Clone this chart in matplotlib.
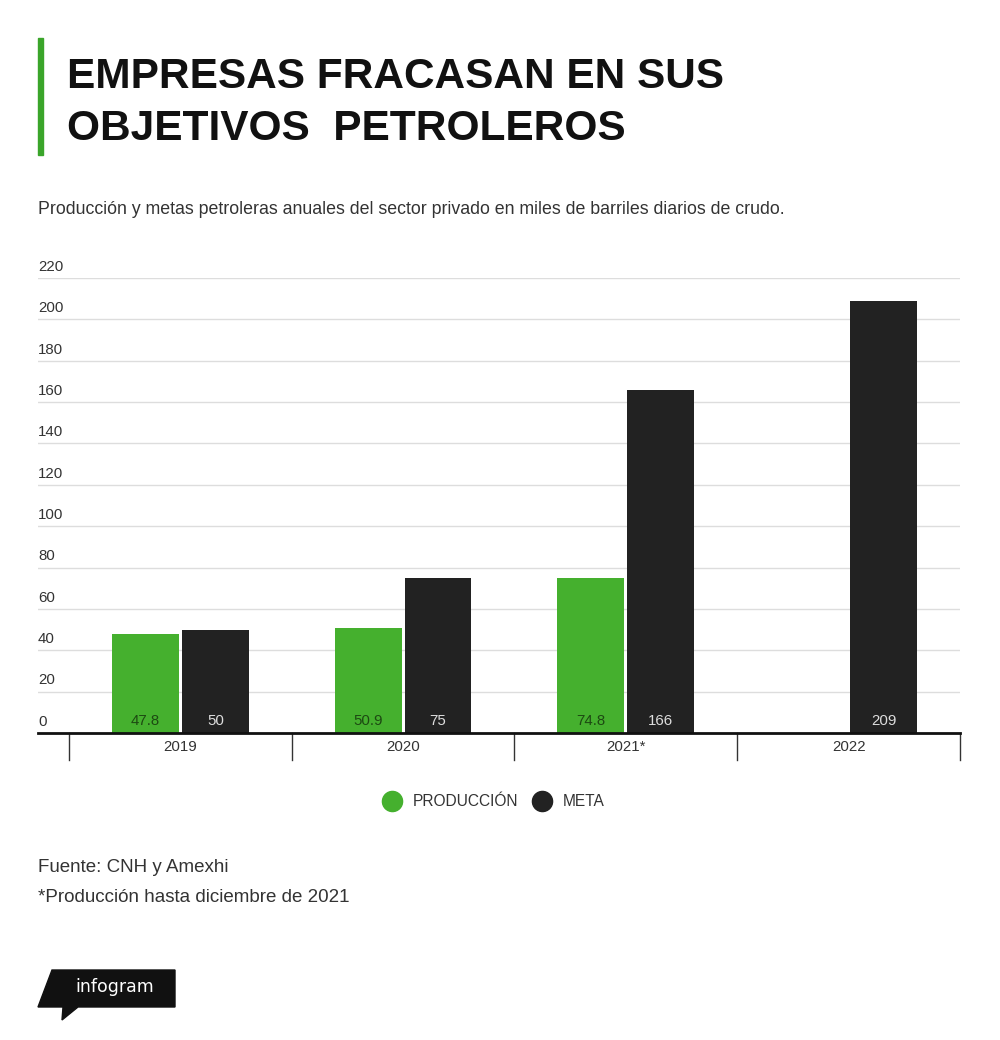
import numpy as np
import matplotlib.pyplot as plt
from matplotlib.patches import Polygon, Rectangle
from matplotlib.lines import Line2D
import matplotlib.transforms as mtransforms

years = ['2019', '2020', '2021*', '2022']
produccion = [47.8, 50.9, 74.8, None]
meta = [50, 75, 166, 209]
yticks = [0, 20, 40, 60, 80, 100, 120, 140, 160, 180, 200, 220]

green = '#45b02e'
dark = '#222222'

plt.rcParams['font.family'] = ['Liberation Sans', 'DejaVu Sans']

W, H = 1000, 1040
fig = plt.figure(figsize=(W / 100, H / 100), dpi=100)
fig.patch.set_facecolor('white')

def fx(px):
    return px / W

def fy(py):
    return 1 - py / H

# title block
fig.patches.append(Rectangle((fx(38), fy(155)), fx(5), 117 / H, transform=fig.transFigure,
                             color='#3aa52a', zorder=5))
fig.text(fx(67), fy(77), 'EMPRESAS FRACASAN EN SUS', fontsize=30.5, fontweight='bold',
         color='#111111', va='center', ha='left')
fig.text(fx(67), fy(129), 'OBJETIVOS  PETROLEROS', fontsize=30.5, fontweight='bold',
         color='#111111', va='center', ha='left')
fig.text(fx(38), fy(210), 'Producción y metas petroleras anuales del sector privado en miles de barriles diarios de crudo.',
         fontsize=12.8, color='#333333', va='center', ha='left')

# chart
ax = fig.add_axes([fx(38), fy(733), (960 - 38) / W, (733 - 278) / H])
ax.set_xlim(-0.639, 3.5)
ax.set_ylim(0, 220)
for s in ax.spines.values():
    s.set_visible(False)
ax.set_xticks([])
ax.set_yticks([])

for v in yticks[1:]:
    ax.axhline(v, color='#dddddd', lw=1, zorder=0)
ax.axhline(0, color='#111111', lw=2, zorder=4, clip_on=False)
for v in yticks:
    ax.text(-0.639, v + 2, str(v), fontsize=10.8, color='#333333', ha='left', va='bottom')

x = np.arange(len(years))
bw = 0.30
off = 0.157
trans = mtransforms.blended_transform_factory(ax.transData, ax.transAxes)
for i, yr in enumerate(years):
    p = produccion[i]
    if p is not None:
        ax.bar(x[i] - off, p, width=bw, color=green, zorder=2)
        ax.text(x[i] - off, 2.5, f'{p:g}', fontsize=10.8, color='#1d4a12', ha='center', va='bottom', zorder=3)
    ax.bar(x[i] + off, meta[i], width=bw, color=dark, zorder=2)
    ax.text(x[i] + off, 2.5, f'{meta[i]:g}', fontsize=10.8, color='#dddddd', ha='center', va='bottom', zorder=3)
    ax.text(x[i], -0.031, yr, fontsize=10.8, color='#333333', ha='center', va='center', transform=trans)

for b in np.arange(-0.5, 4.0, 1.0):
    ax.plot([b, b], [0, -27 / 455], color='#333333', lw=1, transform=trans, clip_on=False)

# legend
fig.lines.append(Line2D([fx(392)], [fy(801)], marker='o', markersize=14.5, color=green,
                        transform=fig.transFigure))
fig.text(fx(413), fy(801), 'PRODUCCIÓN', fontsize=11.2, color='#333333', va='center', ha='left')
fig.lines.append(Line2D([fx(542)], [fy(801)], marker='o', markersize=14.5, color=dark,
                        transform=fig.transFigure))
fig.text(fx(563), fy(801), 'META', fontsize=11.2, color='#333333', va='center', ha='left')

# footer
fig.text(fx(38), fy(867), 'Fuente: CNH y Amexhi', fontsize=13.5, color='#333333', va='center', ha='left')
fig.text(fx(38), fy(898), '*Producción hasta diciembre de 2021', fontsize=13.5, color='#333333', va='center', ha='left')

# infogram badge
badge = [(52, 970), (175, 970), (175, 1007), (78, 1007), (62, 1020), (63, 1007), (38, 1007)]
fig.patches.append(Polygon([(fx(a), fy(b)) for a, b in badge], closed=True,
                           transform=fig.transFigure, color='#111111'))
fig.text(fx(75), fy(987), 'infogram', fontsize=12.5, color='white', va='center', ha='left',
         family=['DejaVu Sans'])

fig.savefig('out.png', dpi=100)
